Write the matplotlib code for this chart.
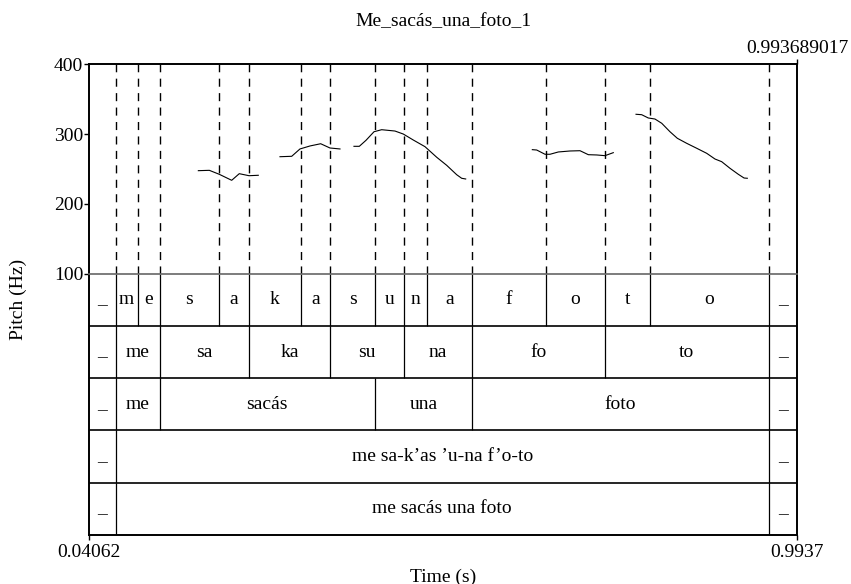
import matplotlib
matplotlib.use("Agg")
import matplotlib.pyplot as plt

plt.rcParams["font.family"] = ["Liberation Serif", "DejaVu Serif"]

T_START = 0.04062
T_END = 0.9937
T_END_FULL = "0.993689017"
TITLE = "Me_sacás_una_foto_1"

# pitch contour (voiced stretches only)
seg1_t = [0.1874, 0.2022, 0.2156, 0.2323, 0.2425, 0.2556, 0.2681]
seg1_hz = [247.6, 248.1, 242.4, 233.8, 243.3, 240.4, 241.0]
seg2_t = [0.2973, 0.3131, 0.3242, 0.3377, 0.3521, 0.3646, 0.3781]
seg2_hz = [267.6, 268.2, 278.7, 283.0, 286.2, 280.1, 278.7]
seg3_t = [0.3969, 0.4041, 0.4131, 0.4239, 0.4342, 0.4521, 0.4633, 0.4768,
          0.4925, 0.5083, 0.5217, 0.5352, 0.5419, 0.5473]
seg3_hz = [282.5, 282.5, 291.1, 303.4, 306.3, 304.4, 300.1, 291.5,
           282.0, 266.8, 255.3, 241.8, 236.7, 235.7]
seg4_t = [0.6370, 0.6429, 0.6541, 0.6608, 0.6720, 0.6877, 0.7012, 0.7124,
          0.7237, 0.7348, 0.7460]
seg4_hz = [277.7, 277.2, 271.1, 271.1, 274.4, 275.8, 276.2, 270.5,
           270.1, 269.1, 273.4]
seg5_t = [0.7766, 0.7842, 0.7931, 0.8021, 0.8112, 0.8223, 0.8322, 0.8448,
          0.8583, 0.8717, 0.8829, 0.8919, 0.9031, 0.9143, 0.9220, 0.9264]
seg5_hz = [328.4, 327.8, 323.1, 321.6, 315.5, 303.4, 294.0, 286.8,
           279.7, 272.5, 264.3, 260.5, 251.0, 242.4, 237.1, 236.7]

# TextGrid tiers: interval boundaries and labels
phone_bounds = [0.0762, 0.1058, 0.1354, 0.2156, 0.2556, 0.3252, 0.3650, 0.4252,
                0.4646, 0.4952, 0.5554, 0.6550, 0.7348, 0.7950, 0.9552]
phone_labels = ["_", "m", "e", "s", "a", "k", "a", "s", "u", "n", "a",
                "f", "o", "t", "o", "_"]
syll_bounds = [0.0762, 0.1354, 0.2556, 0.3650, 0.4646, 0.5554, 0.7348, 0.9552]
syll_labels = ["_", "me", "sa", "ka", "su", "na", "fo", "to", "_"]
word_bounds = [0.0762, 0.1354, 0.4252, 0.5554, 0.9552]
word_labels = ["_", "me", "sacás", "una", "foto", "_"]
transcr_bounds = [0.0762, 0.9552]
transcr_labels = ["_", "me sa-k’as ’u-na f’o-to", "_"]
sent_bounds = [0.0762, 0.9552]
sent_labels = ["_", "me sacás una foto", "_"]

tiers = [
    (phone_bounds, phone_labels),
    (syll_bounds, syll_labels),
    (word_bounds, word_labels),
    (transcr_bounds, transcr_labels),
    (sent_bounds, sent_labels),
]

FS = 14
W, H = 851, 584
fig = plt.figure(figsize=(W / 100, H / 100), dpi=100)

left, right = 89.3, 797.3
top, mid, bottom = 64.3, 273.7, 535.0
ax_t = fig.add_axes([left / W, 1 - bottom / H, (right - left) / W, (bottom - mid) / H])
ax_p = fig.add_axes([left / W, 1 - mid / H, (right - left) / W, (mid - top) / H])
ax_t.patch.set_visible(False)
ax_p.patch.set_visible(False)

# pitch panel
for t, hz in [(seg1_t, seg1_hz), (seg2_t, seg2_hz), (seg3_t, seg3_hz),
              (seg4_t, seg4_hz), (seg5_t, seg5_hz)]:
    ax_p.plot(t, hz, color="black", lw=0.8)
for b in phone_bounds:
    ax_p.axvline(b, color="black", lw=1.0, linestyle=(0, (5.8, 4.6)))
ax_p.set_xlim(T_START, T_END)
ax_p.set_ylim(100, 400)
ax_p.set_yticks([100, 200, 300, 400])
ax_p.set_yticklabels(["100", "200", "300", "400"], fontsize=FS)
ax_p.set_xticks([T_END])
ax_p.set_xticklabels([T_END_FULL], fontsize=FS)
ax_p.tick_params(axis="y", direction="out", length=3.3, width=1, pad=1)
ax_p.tick_params(axis="x", top=True, bottom=False, labeltop=True,
                 labelbottom=False, direction="out", length=3.3, width=1, pad=2)
for side in ["left", "top", "right"]:
    ax_p.spines[side].set_linewidth(1.4)
ax_p.spines["bottom"].set_linewidth(1.2)
ax_p.spines["bottom"].set_color("#666666")

# TextGrid panel
n = len(tiers)
for i, (bounds, labels) in enumerate(tiers):
    y0, y1 = n - i - 1, n - i
    ax_t.vlines(bounds, y0, y1, color="black", lw=0.9)
    edges = [T_START] + bounds + [T_END]
    for a, b, lab in zip(edges[:-1], edges[1:], labels):
        ax_t.text((a + b) / 2, (y0 + y1) / 2, lab, ha="center", va="center",
                  fontsize=FS)
    if i > 0:
        ax_t.axhline(y1, color="black", lw=1.2)
ax_t.set_xlim(T_START, T_END)
ax_t.set_ylim(0, n)
ax_t.set_yticks([])
ax_t.set_xticks([T_START, T_END])
ax_t.set_xticklabels(["0.04062", "0.9937"], fontsize=FS)
ax_t.tick_params(axis="x", direction="out", length=3.6, width=1, pad=3)
ax_t.spines["top"].set_visible(False)
for side in ["left", "bottom", "right"]:
    ax_t.spines[side].set_linewidth(1.4)

cx = (left + right) / 2 / W
fig.text(cx, 1 - 22 / H, TITLE, ha="center", va="center", fontsize=FS)
fig.text(cx, 1 - 577 / H, "Time (s)", ha="center", va="center", fontsize=FS)
fig.text(18 / W, 1 - (top + bottom) / 2 / H, "Pitch (Hz)", ha="center",
         va="center", rotation=90, fontsize=FS)

fig.savefig("out.png", dpi=100)
